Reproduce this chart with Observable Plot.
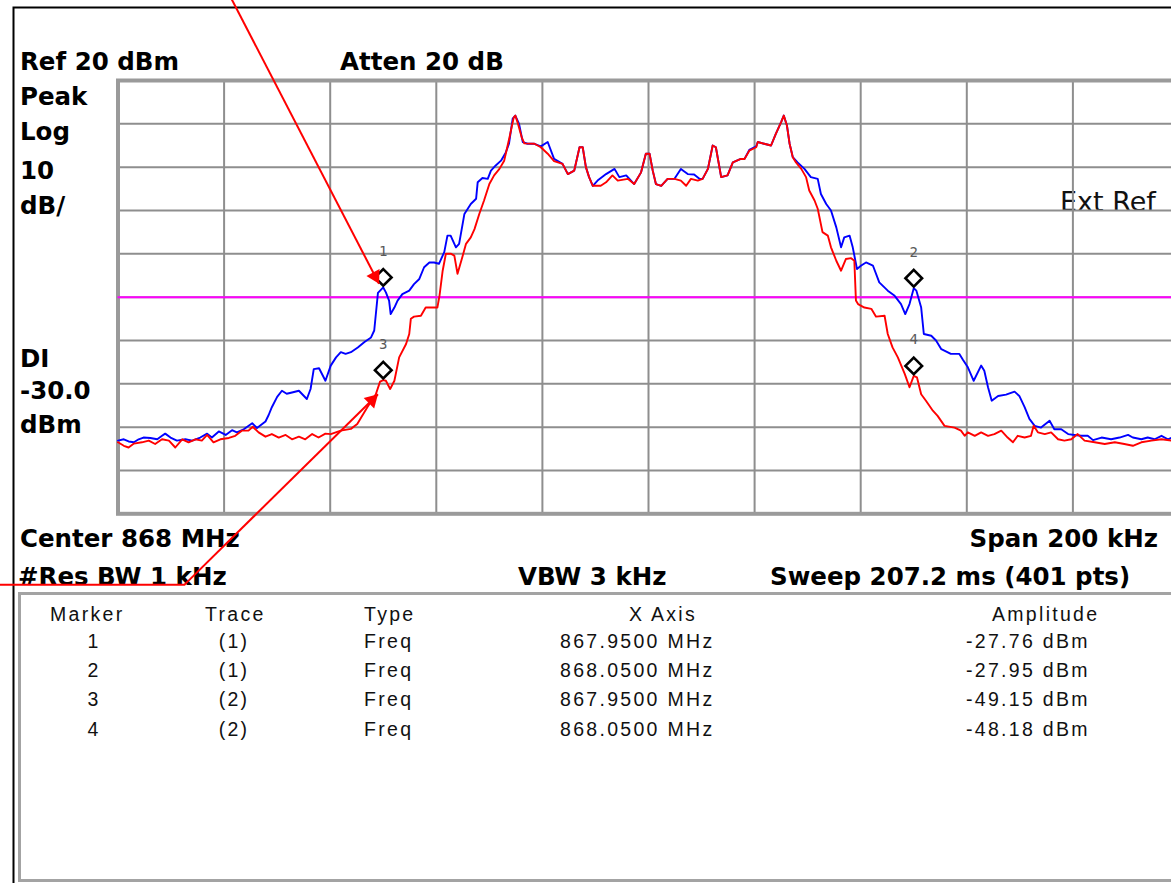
<!DOCTYPE html>
<html>
<head>
<meta charset="utf-8">
<script src="https://cdn.jsdelivr.net/npm/d3@7"></script>
<script src="https://cdn.jsdelivr.net/npm/@observablehq/plot@0.6"></script>
<style>
html, body { margin: 0; padding: 0; background: #fff; overflow: hidden; }
#root { position: relative; width: 1171px; height: 883px; overflow: hidden; background: #fff; }
#root svg { position: absolute; left: 0; top: 0; }
</style>
</head>
<body>
<div id="root"></div>
<script>
// ---------------- DATA ----------------
// frequency offset from centre (kHz), level (dBm)
const blueTrace = [
[-100,-63.1],[-98.9,-62.8],[-98.0,-63.3],[-97.0,-63.5],[-96.1,-62.8],[-95.2,-62.4],[-93.9,-62.5],[-92.6,-62.8],[-91.7,-62.0],[-91.1,-61.5],
[-90.1,-62.4],[-88.9,-63.1],[-87.3,-62.8],[-86.0,-63.1],[-84.5,-62.4],[-83.2,-61.5],[-82.3,-62.4],[-81.0,-61.0],[-79.7,-61.8],[-78.5,-60.7],
[-77.6,-61.2],[-76.3,-60.5],[-74.7,-59.1],[-73.8,-60.2],[-72.2,-58.7],[-71.6,-57.2],[-71.0,-55.4],[-70.0,-53.0],[-69.1,-51.6],[-68.2,-52.3],
[-67.2,-52.0],[-65.9,-51.6],[-64.4,-53.5],[-63.7,-51.2],[-63.1,-46.6],[-62.1,-46.4],[-60.9,-49.3],[-59.9,-45.8],[-58.9,-43.9],[-58.0,-42.7],
[-57.1,-43.1],[-56.1,-42.7],[-54.8,-41.6],[-53.6,-40.4],[-52.3,-39.3],[-51.7,-37.7],[-51.0,-29.0],[-50.0,-27.76],[-49.5,-28.9],[-48.9,-30.8],
[-48.6,-33.9],[-47.9,-32.4],[-47.3,-30.8],[-46.4,-29.3],[-45.1,-28.5],[-44.2,-27.0],[-43.2,-25.8],[-42.3,-23.1],[-41.3,-22.0],[-40.4,-22.0],
[-39.5,-22.3],[-38.5,-19.6],[-37.9,-15.8],[-37.3,-15.8],[-36.3,-18.5],[-35.7,-17.7],[-34.7,-10.8],[-33.5,-8.5],[-32.5,-7.3],[-32.2,-3.5],
[-31.3,-2.5],[-30.3,-2.7],[-29.7,-0.8],[-28.8,0.4],[-27.8,1.5],[-26.9,3.4],[-26.3,5.4],[-25.6,11.2],[-25.1,11.9],[-24.4,10.0],
[-23.7,5.8],[-22.8,5.4],[-21.5,5.4],[-20.3,4.8],[-19.0,5.8],[-17.8,1.9],[-16.2,0.75],[-15.2,-1.6],[-14.0,-0.8],[-13.0,4.6],
[-12.4,4.6],[-11.8,0.0],[-11.2,-2.3],[-10.5,-4.3],[-9.6,-3.1],[-8.0,-1.6],[-6.4,-0.4],[-5.5,-2.3],[-4.2,-1.9],[-2.7,-3.9],
[-1.4,-1.2],[-0.5,3.1],[0.2,3.1],[0.8,-0.8],[1.4,-3.9],[2.4,-4.3],[3.6,-2.7],[4.9,-2.7],[6.1,-0.4],[7.4,-1.6],
[8.6,-1.7],[9.6,-2.7],[10.2,-2.7],[11.2,-0.4],[12.1,5.0],[12.7,4.6],[13.7,-2.3],[14.9,-1.9],[15.9,1.1],[17.4,1.9],
[18.1,1.9],[19.0,4.0],[20.3,4.8],[20.6,5.8],[21.8,5.4],[23.1,5.0],[24.0,7.7],[25.0,10.4],[25.5,11.9],[26.1,9.6],
[26.6,5.4],[27.2,2.3],[28.1,1.1],[29.4,-0.4],[30.6,-2.3],[31.9,-2.7],[32.5,-6.2],[33.5,-8.5],[34.4,-10.0],[35.4,-13.9],
[36.3,-18.5],[36.9,-16.2],[37.9,-15.8],[38.5,-18.5],[39.3,-23.5],[40.1,-22.7],[41.0,-22.0],[42.3,-22.7],[43.5,-26.6],[45.1,-28.5],
[46.4,-29.7],[47.6,-31.6],[48.4,-33.9],[49.2,-31.6],[50.0,-27.95],[50.5,-28.5],[51.4,-32.4],[51.9,-38.5],[53.3,-38.9],[54.2,-40.0],
[55.2,-42.0],[57.0,-43.1],[58.6,-43.1],[59.3,-44.5],[60.2,-46.2],[61.3,-49.3],[62.7,-45.8],[63.3,-47.0],[64.0,-50.8],[64.7,-53.9],
[65.9,-52.8],[67.4,-52.5],[69.0,-51.8],[69.9,-52.8],[70.9,-55.4],[71.8,-58.1],[72.8,-59.7],[74.0,-60.1],[75.6,-58.5],[76.5,-60.5],
[77.8,-60.5],[79.1,-61.6],[80.3,-61.8],[81.6,-62.0],[82.8,-62.0],[83.8,-63.0],[85.4,-62.4],[87.2,-62.8],[88.8,-62.4],[90.4,-61.8],
[91.3,-62.4],[92.9,-62.8],[94.1,-62.4],[95.4,-62.8],[96.7,-62.0],[97.9,-62.8],[98.7,-62.4],[100,-62.6]
];

const redTrace = [
[-100,-63.5],[-98.9,-64.3],[-98.0,-64.7],[-97.0,-63.8],[-95.5,-63.5],[-94.2,-63.1],[-93.0,-63.9],[-91.7,-62.8],[-90.4,-63.1],[-89.2,-64.7],
[-87.9,-62.8],[-86.7,-63.5],[-85.4,-62.8],[-84.2,-63.1],[-83.2,-61.8],[-82.0,-63.5],[-80.7,-62.8],[-79.1,-62.5],[-77.9,-62.0],[-76.6,-60.8],
[-75.4,-60.8],[-74.6,-59.9],[-73.5,-61.2],[-72.2,-62.2],[-71.0,-61.6],[-69.7,-62.4],[-68.4,-61.8],[-67.2,-62.8],[-65.9,-62.2],[-64.7,-62.8],
[-63.4,-61.6],[-62.2,-62.4],[-60.9,-61.5],[-59.9,-61.6],[-58.0,-60.8],[-56.1,-60.4],[-54.9,-59.3],[-53.0,-55.4],[-51.4,-52.4],[-50.6,-49.5],
[-50.0,-49.15],[-49.5,-49.3],[-48.7,-51.2],[-47.9,-49.3],[-47.0,-43.9],[-45.7,-40.8],[-45.1,-38.5],[-44.8,-35.0],[-44.2,-34.5],[-42.9,-34.3],
[-42.0,-32.4],[-39.8,-32.4],[-39.4,-29.7],[-38.8,-23.9],[-38.2,-20.0],[-37.2,-20.0],[-36.6,-20.4],[-36.0,-24.6],[-35.1,-20.8],[-34.4,-17.7],
[-33.5,-16.2],[-32.8,-14.3],[-31.9,-10.8],[-31.0,-7.7],[-30.0,-3.9],[-29.1,-1.9],[-28.1,-0.4],[-27.2,1.5],[-26.2,6.9],[-25.4,11.5],
[-25.1,11.9],[-24.7,10.4],[-23.9,6.9],[-23.4,5.5],[-21.5,5.4],[-20.3,4.6],[-19.0,3.1],[-17.8,1.4],[-16.2,0.75],[-15.2,-1.6],
[-14.0,-0.8],[-13.0,4.6],[-12.4,4.6],[-11.8,0.0],[-11.2,-2.3],[-10.5,-4.3],[-9.0,-4.3],[-8.0,-3.5],[-6.8,-1.9],[-5.8,-3.1],
[-3.9,-2.7],[-2.7,-3.9],[-1.4,-1.2],[-0.5,3.1],[0.2,3.1],[0.8,-0.8],[1.4,-3.9],[2.4,-4.3],[3.6,-2.7],[4.9,-2.7],
[6.1,-3.1],[7.1,-4.3],[8.0,-2.7],[9.3,-3.1],[10.2,-2.7],[11.2,-0.4],[12.1,5.0],[12.7,4.6],[13.7,-2.3],[14.9,-1.9],
[15.9,1.1],[17.4,1.9],[18.1,1.9],[19.0,3.8],[20.3,4.6],[20.6,5.8],[21.8,5.4],[23.1,5.0],[24.0,7.7],[25.0,10.4],
[25.5,11.9],[26.1,9.6],[26.6,5.4],[27.2,2.3],[27.8,1.1],[28.8,-0.4],[29.7,-2.3],[30.3,-5.4],[31.3,-7.7],[31.9,-9.6],
[32.8,-15.0],[33.8,-15.8],[34.4,-18.5],[35.4,-21.6],[36.3,-23.9],[37.2,-21.2],[38.2,-21.0],[38.8,-21.6],[39.1,-30.8],[39.5,-31.6],
[40.7,-32.4],[42.0,-32.7],[42.9,-34.5],[44.5,-34.3],[45.1,-38.5],[46.0,-41.6],[47.0,-43.9],[48.3,-47.7],[49.2,-50.8],[50.0,-48.18],
[50.6,-48.5],[51.4,-52.4],[52.3,-53.9],[53.6,-56.2],[54.5,-57.4],[55.8,-59.7],[57.7,-60.1],[58.9,-60.8],[59.6,-62.0],[60.2,-61.2],
[61.5,-62.0],[62.7,-61.2],[64.0,-62.0],[65.2,-61.6],[66.5,-60.8],[67.7,-62.4],[68.7,-63.5],[69.6,-62.0],[70.9,-62.4],[72.1,-62.0],
[72.6,-59.7],[73.4,-61.2],[74.7,-61.6],[75.9,-61.2],[77.2,-62.8],[78.4,-63.1],[79.7,-62.8],[80.9,-61.6],[82.2,-63.1],[84.1,-63.5],
[86.0,-63.9],[87.9,-63.5],[89.7,-63.9],[91.3,-64.3],[92.9,-63.5],[94.8,-63.1],[96.7,-62.8],[98.7,-63.1],[100,-63.0]
];

// display settings
const centerMHz = 868;
const spanKHz = 200;
const refLevel = 20;       // dBm (top of graticule)
const dbPerDiv = 10;
const displayLine = -30;   // dBm
const freqGrid = [-80, -60, -40, -20, 0, 20, 40, 60, 80];   // kHz offsets
const levelGrid = [10, 0, -10, -20, -30, -40, -50, -60, -70]; // dBm

// markers (table)
const markerNumbers = [1, 2, 3, 4];
const markerTraces = ["(1)", "(1)", "(2)", "(2)"];
const markerTypes = ["Freq", "Freq", "Freq", "Freq"];
const markerFreqMHz = [867.95, 868.05, 867.95, 868.05];
const markerAmpDbm = [-27.76, -27.95, -49.15, -48.18];
const tableHeaders = ["Marker", "Trace", "Type", "X Axis", "Amplitude"];

// red annotation arrows (kHz offset, dBm), drawn over the screen capture
const arrowTop = [{x1: -79.1, y1: 40, x2: -50.8, y2: -26.9}];
const arrowBottomStem = [{x: -125, y: -96.4}, {x: -87.5, y: -96.4}];
const arrowBottom = [{x1: -87.5, y1: -96.4, x2: -51.0, y2: -52.4}];

// ---------------- LAYOUT ----------------
const W = 1171, H = 883;
const root = d3.select("#root");

// background layer: frame, table, texts
const bg = root.append("svg").attr("width", W).attr("height", H)
  .attr("font-family", "'DejaVu Sans', sans-serif");

bg.append("path").attr("d", "M13.5,883 V7.5 H1171").attr("fill", "none")
  .attr("stroke", "#000").attr("stroke-width", 2);

bg.append("rect").attr("x", 19.5).attr("y", 593.5).attr("width", 1200).attr("height", 287)
  .attr("fill", "#fff").attr("stroke", "#a3a3a3").attr("stroke-width", 3);

const bold = [
  {t: `Ref ${refLevel} dBm`, x: 20, y: 70},
  {t: "Atten 20 dB", x: 340, y: 70},
  {t: "Peak", x: 20, y: 105},
  {t: "Log", x: 20, y: 140},
  {t: `${dbPerDiv}`, x: 20, y: 179},
  {t: "dB/", x: 20, y: 214},
  {t: "DI", x: 20, y: 367},
  {t: displayLine.toFixed(1), x: 20, y: 399},
  {t: "dBm", x: 20, y: 433},
  {t: `Center ${centerMHz} MHz`, x: 20, y: 547},
  {t: `Span ${spanKHz} kHz`, x: 1158, y: 547, a: "end"},
  {t: "#Res BW 1 kHz", x: 18, y: 585},
  {t: "VBW 3 kHz", x: 518, y: 585},
  {t: "Sweep 207.2 ms (401 pts)", x: 770, y: 585}
];
bg.selectAll("text.b").data(bold).join("text").attr("class", "b")
  .attr("x", d => d.x).attr("y", d => d.y)
  .attr("text-anchor", d => d.a || "start")
  .attr("font-weight", "bold").attr("font-size", 24.5).attr("fill", "#000")
  .text(d => d.t);

bg.append("text").attr("x", 1060).attr("y", 211).attr("font-size", 27)
  .attr("fill", "#111").text("Ext Ref");

// marker table
const tbl = bg.append("g").attr("font-family", "'Liberation Sans', Arial, sans-serif")
  .attr("font-size", 19.5).attr("letter-spacing", 2.3).attr("fill", "#111");
const headerX = [50, 205, 364, 629, 992];
tableHeaders.forEach((h, i) => tbl.append("text").attr("x", headerX[i]).attr("y", 621).text(h));
markerNumbers.forEach((n, i) => {
  const y = 648 + i * 29.2;
  tbl.append("text").attr("x", 94).attr("y", y).attr("text-anchor", "middle").text(n);
  tbl.append("text").attr("x", 234).attr("y", y).attr("text-anchor", "middle").text(markerTraces[i]);
  tbl.append("text").attr("x", 364).attr("y", y).text(markerTypes[i]);
  tbl.append("text").attr("x", 560).attr("y", y).text(markerFreqMHz[i].toFixed(4) + " MHz");
  tbl.append("text").attr("x", 966).attr("y", y).text(markerAmpDbm[i].toFixed(2) + " dBm");
});

// ---------------- PLOT ----------------
const markers = markerNumbers.map((n, i) => ({
  n, x: Math.round((markerFreqMHz[i] - centerMHz) * 10000) / 10, y: markerAmpDbm[i]
}));

const arrowStyle = {stroke: "#ff0000", strokeWidth: 2};
const chart = Plot.plot({
  width: W,
  height: 600,
  marginLeft: 117.5,
  marginRight: -7.5,
  marginTop: 80,
  marginBottom: 86.7,
  x: {domain: [-spanKHz / 2, spanKHz / 2], axis: null},
  y: {domain: [refLevel - 10 * dbPerDiv, refLevel], axis: null},
  style: {background: "transparent", overflow: "visible"},
  marks: [
    Plot.ruleX(freqGrid, {stroke: "#8e8e8e", strokeWidth: 2}),
    Plot.ruleY(levelGrid, {stroke: "#8e8e8e", strokeWidth: 2}),
    Plot.frame({stroke: "#9a9a9a", strokeWidth: 4}),
    Plot.ruleY([displayLine], {stroke: "#ff00ff", strokeWidth: 2}),
    Plot.line(blueTrace, {x: d => d[0], y: d => d[1], stroke: "#0000ff", strokeWidth: 1.9}),
    Plot.line(redTrace, {x: d => d[0], y: d => d[1], stroke: "#ff0000", strokeWidth: 1.9}),
    Plot.dot(markers, {x: "x", y: "y", symbol: "diamond2", r: 7.5, dy: -10, stroke: "#000", strokeWidth: 2.6, fill: "none"}),
    Plot.text(markers, {x: "x", y: "y", text: "n", dy: -36, fill: "#5a5a5a", fontSize: 14, fontFamily: "'DejaVu Sans Mono', monospace"}),
    // annotation arrows: stems + filled heads
    Plot.link(arrowTop, {x1: "x1", y1: "y1", x2: "x2", y2: "y2", ...arrowStyle}),
    Plot.dot(arrowTop, {x: "x2", y: "y2", symbol: "triangle", r: 5.5, rotate: 152, dx: -4, dy: -7.5, fill: "#ff0000"}),
    Plot.line(arrowBottomStem, {x: "x", y: "y", ...arrowStyle}),
    Plot.link(arrowBottom, {x1: "x1", y1: "y1", x2: "x2", y2: "y2", ...arrowStyle}),
    Plot.dot(arrowBottom, {x: "x2", y: "y2", symbol: "triangle", r: 5.5, rotate: 45, dx: -6, dy: 6, fill: "#ff0000"})
  ]
});
root.node().appendChild(chart);
</script>
</body>
</html>
